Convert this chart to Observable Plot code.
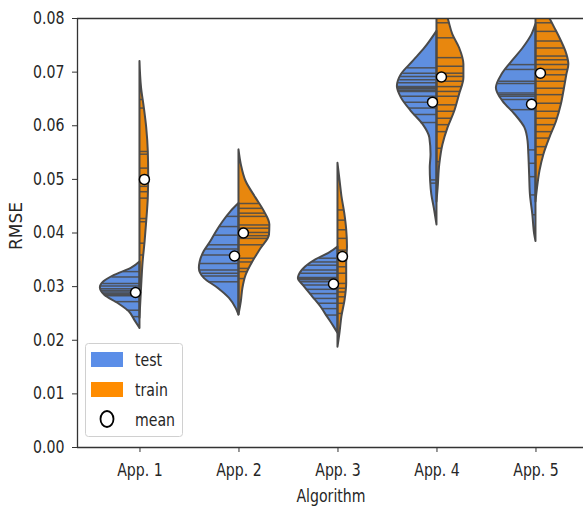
<!DOCTYPE html>
<html>
<head>
<meta charset="utf-8">
<script src="https://cdn.jsdelivr.net/npm/d3@7"></script>
<script src="https://cdn.jsdelivr.net/npm/@observablehq/plot@0.6"></script>
<style>
  html, body { margin: 0; padding: 0; background: #fff; }
  #chart { width: 583px; height: 507px; overflow: hidden; }
</style>
</head>
<body>
<div id="chart"></div>
<script>
// ---------- data ----------
const algorithms = ["App. 1", "App. 2", "App. 3", "App. 4", "App. 5"];
const splits = ["test", "train"];
const yTicks = [0, 0.01, 0.02, 0.03, 0.04, 0.05, 0.06, 0.07, 0.08];

// violin outlines: [RMSE, relative half-width]
const testOutlines = [
  [[.0222,0],[.0237,.13],[.0253,.27],[.0269,.56],[.0284,.89],[.0298,1],[.0309,.91],[.0321,.64],[.0334,.22],[.0346,0]],
  [[.0247,0],[.0259,.07],[.0278,.24],[.0297,.53],[.0315,.87],[.0334,1],[.0346,.98],[.0365,.88],[.0384,.71],[.0402,.57],[.0421,.40],[.0440,.20],[.0455,0]],
  [[.0213,0],[.0225,.10],[.0244,.27],[.0262,.43],[.0281,.64],[.0300,.85],[.0315,1],[.0321,.98],[.0337,.81],[.0350,.56],[.0362,.23],[.0374,0]],
  [[.0415,0],[.0447,.07],[.0471,.13],[.0496,.16],[.0521,.17],[.0546,.15],[.0577,.18],[.0602,.35],[.0627,.65],[.0652,.90],[.0673,1],[.0695,.90],[.0720,.60],[.0745,.30],[.0776,0]],
  [[.0384,0],[.0396,.03],[.0434,.08],[.0471,.14],[.0508,.16],[.0546,.18],[.0571,.20],[.0596,.28],[.0621,.53],[.0645,.83],[.0670,1],[.0695,.86],[.0720,.60],[.0745,.32],[.0770,.10],[.0789,0]]
];
const trainOutlines = [
  [[.0241,0],[.0297,.04],[.0346,.08],[.0384,.13],[.0421,.17],[.0465,.21],[.0508,.22],[.0552,.21],[.0596,.17],[.0633,.11],[.0670,.04],[.0720,0]],
  [[.0247,0],[.0272,.06],[.0297,.10],[.0321,.18],[.0346,.35],[.0371,.56],[.0396,.77],[.0415,.78],[.0440,.64],[.0465,.43],[.0496,.18],[.0527,.06],[.0555,0]],
  [[.0187,0],[.0213,.05],[.0244,.10],[.0275,.18],[.0306,.22],[.0343,.22],[.0374,.24],[.0406,.22],[.0437,.17],[.0468,.10],[.0499,.05],[.0530,0]],
  [[.0458,0],[.0484,.03],[.0527,.07],[.0564,.15],[.0596,.28],[.0627,.45],[.0658,.57],[.0689,.68],[.0714,.68],[.0745,.57],[.0770,.40],[.0800,.28],[.0820,.18],[.0850,.07],[.0880,0]],
  [[.0458,0],[.0484,.04],[.0515,.10],[.0546,.20],[.0577,.35],[.0608,.52],[.0639,.64],[.0670,.72],[.0695,.78],[.0714,.83],[.0733,.78],[.0758,.64],[.0783,.47],[.0800,.35],[.0820,.20],[.0850,.07],[.0870,0]]
];

// individual observations (sticks)
const testSticks = [
  [.0328,.0318,.0306,.0301,.0296,.0293,.0290,.0287,.0285,.0283,.0272,.0256,.0244],
  [.0431,.0412,.0396,.0378,.0370,.0359,.0343,.0331,.0325,.0320,.0309],
  [.0353,.0346,.0340,.0331,.0325,.0317,.0315,.0313,.0309,.0303,.0295,.0287,.0278,.0269,.0259,.0247],
  [.0708,.0698,.0692,.0686,.0680,.0673,.0671,.0669,.0666,.0664,.0655,.0644,.0633,.0621,.0606,.0499,.0493],
  [.0714,.0705,.0683,.0679,.0661,.0658,.0655,.0649,.0630,.0555,.0530,.0505,.0471,.0434]
];
const trainSticks = [
  [.0649,.0633,.0552,.0547,.0521,.0487,.0477,.0465,.0427,.0421,.0381,.0359],
  [.0455,.0446,.0437,.0431,.0415,.0409,.0401,.0395,.0390,.0378,.0353,.0346,.0334,.0328,.0315],
  [.0443,.0424,.0406,.0390,.0368,.0350,.0337,.0325,.0306,.0297,.0290,.0281,.0269,.0250],
  [.0792,.0764,.0727,.0711,.0698,.0692,.0683,.0673,.0664,.0655,.0639,.0627,.0614,.0602,.0589,.0558,.0533],
  [.0792,.0776,.0758,.0745,.0730,.0723,.0714,.0705,.0695,.0683,.0670,.0658,.0642,.0627,.0614,.0602,.0589,.0577,.0561,.0546]
];

const testMeans = [.0289, .0357, .0305, .0644, .0640];
const trainMeans = [.0500, .0400, .0356, .0691, .0698];

// ---------- styling ----------
const BLUE = "#5f8fe0", ORANGE = "#e8870e";
const LEG_BLUE = "#5b8ee8", LEG_ORANGE = "#ff8c00";
const EDGE = "#4a4a4a";
const HALF = 0.4;      // max half-width in band units
const DODGE = 0.045;   // mean marker offset
const FONT = "DejaVu Sans";
const FS = 17;
const SQUISH = 0.83;

function widthAt(outline, v) {
  for (let k = 0; k < outline.length - 1; k++) {
    const [a, wa] = outline[k], [b, wb] = outline[k + 1];
    if (v >= a && v <= b) return wa + (wb - wa) * (v - a) / (b - a);
  }
  return 0;
}

const areaRows = [], stickRows = [], meanRows = [];
algorithms.forEach((name, i) => {
  testOutlines[i].forEach(([v, w]) => areaRows.push({key: name + "-test", split: "test", v, x1: i - w * HALF, x2: i}));
  trainOutlines[i].forEach(([v, w]) => areaRows.push({key: name + "-train", split: "train", v, x1: i, x2: i + w * HALF}));
  testSticks[i].forEach(v => stickRows.push({v, x1: i - widthAt(testOutlines[i], v) * HALF, x2: i}));
  trainSticks[i].forEach(v => stickRows.push({v, x1: i, x2: i + widthAt(trainOutlines[i], v) * HALF}));
  meanRows.push({split: "test", x: i - DODGE, v: testMeans[i]});
  meanRows.push({split: "train", x: i + DODGE, v: trainMeans[i]});
});

const X0 = -0.631, X1 = 4.48;

const chart = Plot.plot({
  width: 583,
  height: 507,
  marginLeft: 77,
  marginRight: 0,
  marginTop: 18,
  marginBottom: 60,
  style: {fontFamily: FONT, fontSize: FS + "px", color: "#262626", background: "#fff"},
  x: {type: "linear", domain: [X0, X1], axis: null},
  y: {domain: [0, 0.08], axis: null},
  color: {domain: splits, range: [BLUE, ORANGE]},
  marks: [
    Plot.areaX(areaRows, {y: "v", x1: "x1", x2: "x2", z: "key", fill: "split", curve: "monotone-y", clip: true}),
    Plot.ruleY(stickRows, {y: "v", x1: "x1", x2: "x2", stroke: "#4a4a4a", strokeWidth: 1.5, strokeOpacity: 0.9, clip: true}),
    Plot.areaX(areaRows, {y: "v", x1: "x1", x2: "x2", z: "key", fill: "none", stroke: EDGE, strokeWidth: 2, curve: "monotone-y", clip: true}),
    Plot.dot(meanRows, {x: "x", y: "v", r: 5, fill: "white", stroke: "black", strokeWidth: 1.5}),
    // spines
    Plot.ruleY([0], {stroke: "#333", strokeWidth: 1.3}),
    Plot.ruleY([0.08], {stroke: "#333", strokeWidth: 1.3}),
    Plot.ruleX([X0], {stroke: "#333", strokeWidth: 1.3}),
    Plot.axisY({ticks: yTicks, tickFormat: d3.format(".2f"), tickSize: 5, tickPadding: 8, label: null, fontSize: FS, stroke: "#333"}),
    Plot.axisX({ticks: [0, 1, 2, 3, 4], tickFormat: i => algorithms[i], tickSize: 5, tickPadding: 11, label: null, fontSize: FS, stroke: "#333"})
  ]
});

document.getElementById("chart").appendChild(chart);

const svg = d3.select(chart);

// axis titles
svg.append("text").attr("class", "ttl")
  .attr("transform", "translate(22,226) rotate(-90)")
  .attr("text-anchor", "middle")
  .attr("font-family", FONT).attr("font-size", FS).attr("fill", "#262626")
  .text("RMSE");
svg.append("text").attr("class", "ttl sq")
  .attr("x", 331).attr("y", 502)
  .attr("text-anchor", "middle")
  .attr("font-family", FONT).attr("font-size", FS).attr("fill", "#262626")
  .text("Algorithm");

// legend
const lg = svg.append("g");
lg.append("rect").attr("x", 85.5).attr("y", 343.5).attr("width", 97).attr("height", 93).attr("rx", 3)
  .attr("fill", "white").attr("fill-opacity", 0.85).attr("stroke", "#d0d0d0").attr("stroke-width", 1);
lg.append("rect").attr("x", 91).attr("y", 352).attr("width", 32).attr("height", 15).attr("fill", LEG_BLUE);
lg.append("rect").attr("x", 91).attr("y", 382).attr("width", 32).attr("height", 15).attr("fill", LEG_ORANGE);
lg.append("ellipse").attr("cx", 107).attr("cy", 419).attr("rx", 6.5).attr("ry", 8)
  .attr("fill", "white").attr("stroke", "black").attr("stroke-width", 1.8);
[["test", 366], ["train", 396], ["mean", 426]].forEach(([t, y]) => {
  lg.append("text").attr("class", "sq").attr("x", 135).attr("y", y)
    .attr("text-anchor", "start")
    .attr("font-family", FONT).attr("font-size", FS).attr("fill", "#262626").text(t);
});

// condense horizontal text to match the reference's narrow glyphs
chart.querySelectorAll("text").forEach(el => {
  if (el.classList.contains("ttl") && !el.classList.contains("sq")) return;
  if (el.querySelector("tspan")) return;
  const len = el.getComputedTextLength();
  if (len > 0) {
    el.setAttribute("textLength", (len * SQUISH).toFixed(2));
    el.setAttribute("lengthAdjust", "spacingAndGlyphs");
  }
});
</script>
</body>
</html>
